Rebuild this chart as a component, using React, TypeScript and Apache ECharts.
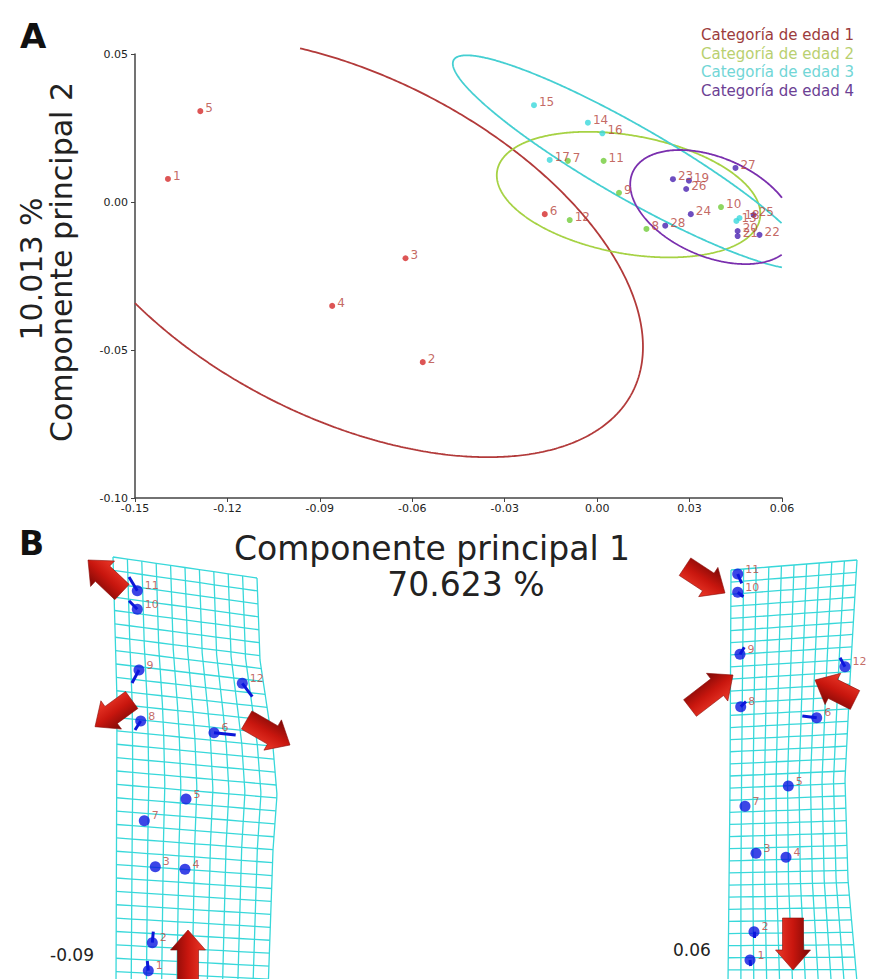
import React, { useEffect, useRef } from "react";
import * as echarts from "echarts";

// ---------- Panel A data ----------
const categories = ["Categoría de edad 1", "Categoría de edad 2", "Categoría de edad 3", "Categoría de edad 4"];
const pointIds = [1, 2, 3, 4, 5, 6, 7, 8, 9, 10, 11, 12, 13, 14, 15, 16, 17, 18, 19, 20, 21, 22, 23, 24, 25, 26, 27, 28];
const pc1 = [-0.1393, -0.0566, -0.0622, -0.086, -0.1288, -0.017, -0.0095, 0.016, 0.0071, 0.0402, 0.0021, -0.0089, 0.0452, -0.003, -0.0205, 0.0017, -0.0154, 0.0462, 0.0298, 0.0456, 0.0456, 0.0527, 0.0246, 0.0304, 0.0508, 0.0289, 0.0449, 0.0221];
const pc2 = [0.0078, -0.0541, -0.019, -0.0351, 0.0307, -0.0041, 0.0139, -0.0091, 0.0031, -0.0017, 0.0139, -0.0061, -0.0064, 0.0268, 0.0327, 0.0232, 0.0142, -0.0054, 0.0072, -0.0098, -0.0115, -0.0111, 0.0077, -0.0041, -0.0044, 0.0044, 0.0115, -0.008];
const pointCategory = [0, 0, 0, 0, 0, 0, 1, 1, 1, 1, 1, 1, 2, 2, 2, 2, 2, 2, 3, 3, 3, 3, 3, 3, 3, 3, 3, 3];

// confidence ellipses (data units): centre x, centre y, semi-major, semi-minor, angle (deg)
const ellipseCx = [-0.0809, 0.0102, 0.011, 0.0375];
const ellipseCy = [-0.0152, 0.0025, 0.0135, -0.0017];
const ellipseA = [0.1046, 0.0434, 0.0671, 0.0285];
const ellipseB = [0.0572, 0.0199, 0.012, 0.0166];
const ellipseAngle = [-28.7, -11, -31, -25];

const xTickMin = -0.15, xTickMax = 0.06, xTickStep = 0.03;
const yTickMin = -0.1, yTickMax = 0.05, yTickStep = 0.05;
const xTitle = "Componente principal 1";
const xVariance = "70.623 %";
const yTitle = "Componente principal 2";
const yVariance = "10.013 %";

// ---------- Panel B data (specimen frame units) ----------
const landmarkIds = [1, 2, 3, 4, 5, 6, 7, 8, 9, 10, 11, 12];
const negLmX = [88.3, 92.3, 95.3, 125, 126, 154, 84.3, 80.7, 79, 77.3, 77.3, 182.3];
const negLmY = [430.7, 402.7, 326.7, 329.3, 259, 192.7, 280.7, 181, 130, 69.3, 50.7, 143.3];
const negVecX = [87.3, 93.3, null, null, null, 175.7, null, 75, 72, 69, 69, 192.3];
const negVecY = [421, 391.7, null, null, null, 195, null, 190, 143, 60.7, 37, 156.7];
const posLmX = [90, 94, 96, 126, 128.3, 156.7, 85, 80.7, 80, 77.7, 77.7, 185];
const posLmY = [420, 391.7, 313.3, 317.3, 246, 177.7, 266.3, 166.7, 114.3, 52.3, 34, 126.7];
const posVecX = [90.7, 94, null, null, null, 142.3, null, 86, 84.3, 83.3, 81.7, 180];
const posVecY = [426, 398, null, null, null, 176, null, 161.7, 107.3, 56.7, 43.3, 117.7];
// arrows: tail x, tail y, head x, head y
const negArrows = [[62, 52, 28, 20], [71.7, 160, 35, 186.7], [186.7, 180, 230, 205], [128, 447, 128, 390]];
const posArrows = [[25, 26.7, 65, 53], [30, 168, 73, 135], [195, 160, 155, 140], [133, 378, 133, 430]];
// deformed grid outlines: [y, x] along edges
const negLattice = { topL: 17, topR: 38, botL: 445, botR: 452, cols: 10, rows: 32,
  left: [[17, 53], [160, 57], [445, 56]],
  right: [[38, 197], [120, 200], [207, 213], [255, 217], [310, 213], [452, 208]] };
const posLattice = { topL: 30, topR: 20, botL: 442, botR: 442, cols: 10, rows: 34,
  left: [[30, 71], [250, 70], [442, 68]],
  right: [[20, 197], [140, 190], [240, 185], [340, 188], [442, 197]] };
const negScoreLabel = "-0.09";
const posScoreLabel = "0.06";

const dotColors = ["#d42a2a", "#72cc3a", "#3ad8dc", "#4a22b0"];
const ellipseColors = ["#b23a3a", "#a6d244", "#45cfd2", "#7a2fae"];
const legendColors = ["#9c3c3c", "#b9d070", "#72d6d6", "#6c3f94"];

function ellipsePoints(i: number) {
  const pts: any[] = [];
  const phi = (ellipseAngle[i] * Math.PI) / 180;
  for (let k = 0; k <= 720; k++) {
    const t = (k / 720) * Math.PI * 2;
    const x = ellipseCx[i] + ellipseA[i] * Math.cos(t) * Math.cos(phi) - ellipseB[i] * Math.sin(t) * Math.sin(phi);
    const y = ellipseCy[i] + ellipseA[i] * Math.cos(t) * Math.sin(phi) + ellipseB[i] * Math.sin(t) * Math.cos(phi);
    if (x < xTickMin || x > xTickMax || y < yTickMin || y > 0.052) pts.push(["-", "-"]);
    else pts.push([x, y]);
  }
  return pts;
}

function interpEdge(pts: number[][], y: number) {
  if (y <= pts[0][0]) return pts[0][1];
  for (let i = 1; i < pts.length; i++) {
    if (y <= pts[i][0]) {
      const [y0, x0] = pts[i - 1];
      const [y1, x1] = pts[i];
      return x0 + ((x1 - x0) * (y - y0)) / (y1 - y0);
    }
  }
  return pts[pts.length - 1][1];
}

function buildLattice(s: any) {
  const P = (u: number, v: number) => {
    const yl = s.topL + (s.botL - s.topL) * v;
    const yr = s.topR + (s.botR - s.topR) * v;
    const xl = interpEdge(s.left, yl);
    const xr = interpEdge(s.right, yr);
    return [xl + (xr - xl) * u, yl + (yr - yl) * u];
  };
  const lines: any[] = [];
  for (let i = 0; i <= s.cols; i++) {
    const coords: number[][] = [];
    for (let j = 0; j <= s.rows * 3; j++) coords.push(P(i / s.cols, j / (s.rows * 3)));
    lines.push({ coords });
  }
  for (let j = 0; j <= s.rows; j++) {
    const coords: number[][] = [];
    for (let i = 0; i <= s.cols; i++) coords.push(P(i / s.cols, j / s.rows));
    lines.push({ coords });
  }
  return lines;
}

function vectorLines(lx: number[], ly: number[], vx: any[], vy: any[]) {
  const out: any[] = [];
  lx.forEach((x, i) => {
    if (vx[i] != null) out.push({ coords: [[x, ly[i]], [vx[i], vy[i]]] });
  });
  return out;
}

function arrowRender(params: any, api: any) {
  const t = api.coord([api.value(0), api.value(1)]);
  const h = api.coord([api.value(2), api.value(3)]);
  const dx = h[0] - t[0], dy = h[1] - t[1];
  const L = Math.hypot(dx, dy) || 1;
  const ux = dx / L, uy = dy / L, nx = -uy, ny = ux;
  const sw = 10.5, hw = 17.5, hl = 20;
  const bx = h[0] - ux * hl, by = h[1] - uy * hl;
  const points = [
    [t[0] + nx * sw, t[1] + ny * sw],
    [bx + nx * sw, by + ny * sw],
    [bx + nx * hw, by + ny * hw],
    [h[0], h[1]],
    [bx - nx * hw, by - ny * hw],
    [bx - nx * sw, by - ny * sw],
    [t[0] - nx * sw, t[1] - ny * sw],
  ];
  const grad = new echarts.graphic.LinearGradient(
    t[0] + nx * hw, t[1] + ny * hw, t[0] - nx * hw, t[1] - ny * hw,
    [
      { offset: 0, color: "#ee3a2a" },
      { offset: 0.5, color: "#c8160e" },
      { offset: 1, color: "#7a0806" },
    ],
    true
  );
  return { type: "polygon", shape: { points }, style: { fill: grad, stroke: "#8a0c08", lineWidth: 0.6 } };
}

const FONT = "DejaVu Sans";

export default function App() {
  const ref = useRef<HTMLDivElement>(null);
  useEffect(() => {
    if (!ref.current) return;
    const chart = echarts.init(ref.current, undefined, { renderer: "svg" });

    const scatterSeries = categories.map((name, c) => ({
      type: "scatter",
      name,
      xAxisIndex: 0,
      yAxisIndex: 0,
      symbolSize: 6,
      itemStyle: { color: dotColors[c] },
      z: 5,
      data: pointIds.filter((_, i) => pointCategory[i] === c).map((id) => [pc1[id - 1], pc2[id - 1], id]),
      label: {
        show: true,
        position: "right",
        distance: 2,
        offset: [0, -3],
        formatter: (p: any) => String(p.value[2]),
        color: "#b5423b",
        fontSize: 12,
        fontFamily: FONT,
      },
    }));

    const ellipseSeries = categories.map((name, c) => ({
      type: "line",
      name: name + " elipse",
      xAxisIndex: 0,
      yAxisIndex: 0,
      data: ellipsePoints(c),
      showSymbol: false,
      symbol: "none",
      clip: false,
      silent: true,
      connectNulls: false,
      lineStyle: { color: ellipseColors[c], width: 1.8 },
      z: 3,
    }));

    const panelB = (idx: number, lat: any, lx: number[], ly: number[], vx: any[], vy: any[], arrows: number[][]) => [
      {
        type: "lines",
        coordinateSystem: "cartesian2d",
        xAxisIndex: idx,
        yAxisIndex: idx,
        polyline: true,
        silent: true,
        data: buildLattice(lat),
        lineStyle: { color: "#38d8da", width: 1.3, opacity: 1 },
        z: 1,
      },
      {
        type: "lines",
        coordinateSystem: "cartesian2d",
        xAxisIndex: idx,
        yAxisIndex: idx,
        silent: true,
        data: vectorLines(lx, ly, vx, vy),
        lineStyle: { color: "#0c18d8", width: 3, opacity: 1 },
        z: 2,
      },
      {
        type: "scatter",
        xAxisIndex: idx,
        yAxisIndex: idx,
        symbolSize: 11,
        itemStyle: { color: "#0b16e0" },
        data: landmarkIds.map((id, i) => [lx[i], ly[i], id]),
        label: {
          show: true,
          position: "right",
          distance: 2,
          offset: [0, -5],
          formatter: (p: any) => String(p.value[2]),
          color: "#b5473f",
          fontSize: 11,
          fontFamily: FONT,
        },
        z: 3,
      },
      {
        type: "custom",
        coordinateSystem: "cartesian2d",
        xAxisIndex: idx,
        yAxisIndex: idx,
        renderItem: arrowRender,
        data: arrows,
        silent: true,
        z: 4,
      },
    ];

    const hiddenAxis = (gridIndex: number, max: number, inverse: boolean) => ({
      type: "value",
      gridIndex,
      min: 0,
      max,
      inverse,
      show: false,
    });

    const labelFmt = (v: number) => (Math.abs(v) < 1e-9 ? "0.00" : v.toFixed(2));

    const option: any = {
      animation: false,
      backgroundColor: "#ffffff",
      grid: [
        { left: 135, top: 54, width: 647, height: 444 },
        { left: 60, top: 540, width: 240, height: 439 },
        { left: 660, top: 540, width: 212, height: 439 },
      ],
      xAxis: [
        {
          type: "value",
          gridIndex: 0,
          min: xTickMin,
          max: xTickMax,
          interval: xTickStep,
          axisLine: { show: true, onZero: false, lineStyle: { color: "#444", width: 1.5 } },
          axisTick: { show: true, length: 4, lineStyle: { color: "#444" } },
          axisLabel: { formatter: labelFmt, color: "#222", fontSize: 11, fontFamily: FONT, margin: 5 },
          splitLine: { show: false },
        },
        hiddenAxis(1, 240, false),
        hiddenAxis(2, 212, false),
      ],
      yAxis: [
        {
          type: "value",
          gridIndex: 0,
          min: yTickMin,
          max: yTickMax,
          interval: yTickStep,
          axisLine: { show: true, onZero: false, lineStyle: { color: "#444", width: 1.5 } },
          axisTick: { show: true, length: 4, lineStyle: { color: "#444" } },
          axisLabel: { formatter: labelFmt, color: "#222", fontSize: 11, fontFamily: FONT, margin: 7 },
          splitLine: { show: false },
        },
        hiddenAxis(1, 439, true),
        hiddenAxis(2, 439, true),
      ],
      graphic: [
        { type: "text", left: 20, top: 19, style: { text: "A", fontSize: 34, fontWeight: "bold", fontFamily: FONT, fill: "#111" } },
        { type: "text", left: 19, top: 527, style: { text: "B", fontSize: 33, fontWeight: "bold", fontFamily: FONT, fill: "#111" } },
        { type: "text", x: 31, y: 269, rotation: Math.PI / 2, style: { text: yVariance, fontSize: 30, fontFamily: FONT, fill: "#222", textAlign: "center", textVerticalAlign: "middle" } },
        { type: "text", x: 61, y: 262, rotation: Math.PI / 2, style: { text: yTitle, fontSize: 30, fontFamily: FONT, fill: "#222", textAlign: "center", textVerticalAlign: "middle" } },
        { type: "text", x: 432, y: 548, style: { text: xTitle, fontSize: 33, fontFamily: FONT, fill: "#222", textAlign: "center", textVerticalAlign: "middle" } },
        { type: "text", x: 466, y: 584, style: { text: xVariance, fontSize: 33, fontFamily: FONT, fill: "#222", textAlign: "center", textVerticalAlign: "middle" } },
        { type: "text", x: 50, y: 955, style: { text: negScoreLabel, fontSize: 17, fontFamily: FONT, fill: "#222", textAlign: "left", textVerticalAlign: "middle" } },
        { type: "text", x: 673, y: 950, style: { text: posScoreLabel, fontSize: 17, fontFamily: FONT, fill: "#222", textAlign: "left", textVerticalAlign: "middle" } },
        ...categories.map((name, c) => ({
          type: "text",
          x: 701,
          y: 35 + c * 18.7,
          style: { text: name, fontSize: 15, fontFamily: FONT, fill: legendColors[c], textAlign: "left", textVerticalAlign: "middle" },
        })),
      ],
      series: [
        ...ellipseSeries,
        ...scatterSeries,
        ...panelB(1, negLattice, negLmX, negLmY, negVecX, negVecY, negArrows),
        ...panelB(2, posLattice, posLmX, posLmY, posVecX, posVecY, posArrows),
      ],
    };
    chart.setOption(option);
    return () => chart.dispose();
  }, []);
  return <div ref={ref} style={{ position: "fixed", left: 0, top: 0, width: 872, height: 979, background: "#fff" }} />;
}
